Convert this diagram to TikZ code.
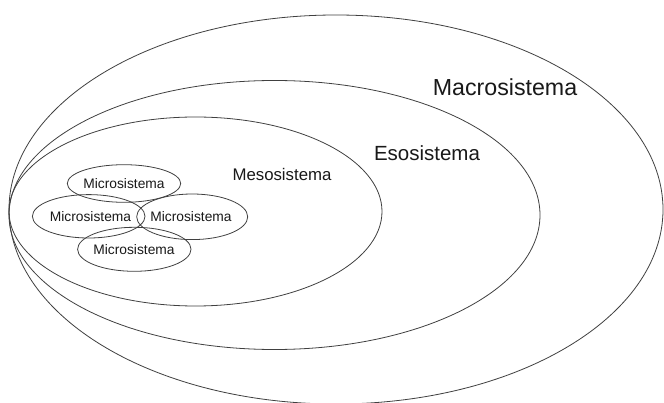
\documentclass[tikz,border=0pt]{standalone}
\usepackage{fontspec}
\setmainfont{Liberation Sans}
\begin{document}
\begin{tikzpicture}[x=1pt,y=-1pt,
  ring/.style={draw=black!75, line width=0.8pt},
  lbl/.style={inner sep=0pt, text=black!90},
  microlbl/.style={lbl, font=\fontsize{13.8}{14}\selectfont}]
\useasboundingbox (0,0) rectangle (664,403);
\fill[white] (0,0) rectangle (664,403);
% big nested ellipses
\draw[ring] (336,209.5) ellipse [x radius=327, y radius=194.5];
\draw[ring] (274.5,215) ellipse [x radius=265.5, y radius=134.5];
\draw[ring] (195.5,211.5) ellipse [x radius=186.5, y radius=94.5];
% labels
\node[lbl, font=\fontsize{23.2}{25}\selectfont] (macro) at (505,87) {Macrosistema};
\node[lbl, font=\fontsize{20.5}{22}\selectfont] (eso) at (427,153) {Esosistema};
\node[lbl, font=\fontsize{16.8}{18}\selectfont] (meso) at (282,174) {Mesosistema};
% micro systems
\draw[ring] (124,183.5) ellipse [x radius=56.7, y radius=18.8];
\draw[ring] (88.7,216.3) ellipse [x radius=56.3, y radius=21.7];
\draw[ring] (192.2,216.8) ellipse [x radius=55.5, y radius=22.8];
\draw[ring] (134.3,249.3) ellipse [x radius=56.7, y radius=22];
\node[microlbl] (m1) at (124,184) {Microsistema};
\node[microlbl] (m2) at (90.5,217) {Microsistema};
\node[microlbl] (m3) at (191,217) {Microsistema};
\node[microlbl] (m4) at (134,250) {Microsistema};
\end{tikzpicture}
\end{document}
